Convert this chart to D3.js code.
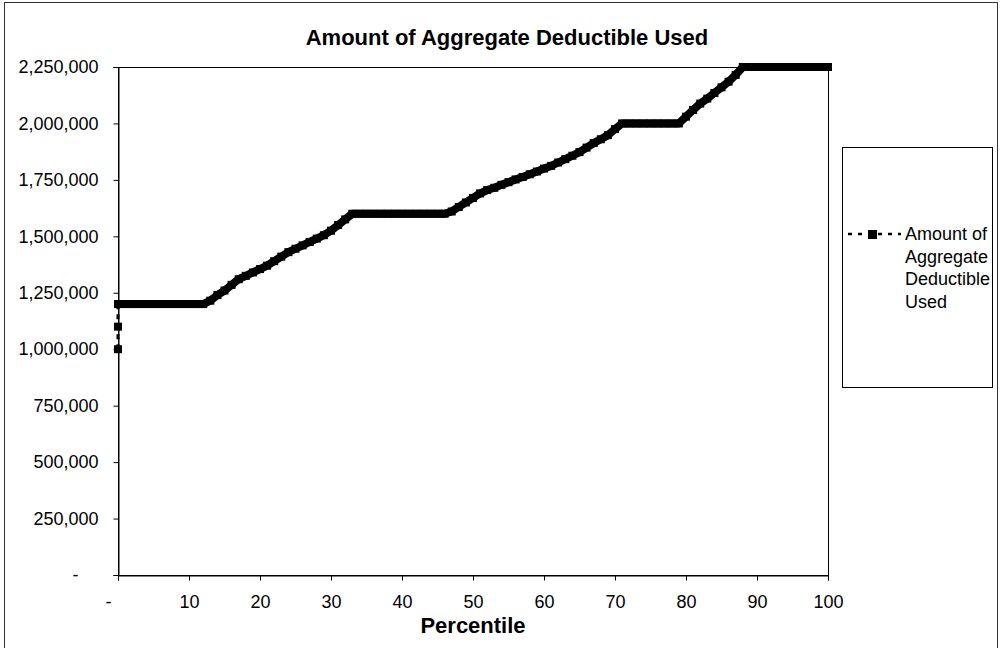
<!DOCTYPE html>
<html>
<head>
<meta charset="utf-8">
<script src="https://cdn.jsdelivr.net/npm/d3@7/dist/d3.min.js"></script>
<style>
  html, body { margin: 0; padding: 0; background: #fff; }
  svg { display: block; font-family: "Liberation Sans", Arial, sans-serif; }
</style>
</head>
<body>
<svg id="chart" width="1002" height="648"></svg>
<script>
// ---- Data ----
const chartTitle = "Amount of Aggregate Deductible Used";
const xAxisTitle = "Percentile";
const seriesName = ["Amount of", "Aggregate", "Deductible", "Used"];

const percentiles = [
  0, 0, 0,
  1, 2, 3, 4, 5, 6, 7, 8, 9, 10,
  11, 12, 13, 14, 15, 16, 17, 18, 19, 20,
  21, 22, 23, 24, 25, 26, 27, 28, 29, 30,
  31, 32, 33, 34, 35, 36, 37, 38, 39, 40,
  41, 42, 43, 44, 45, 46, 47, 48, 49, 50,
  51, 52, 53, 54, 55, 56, 57, 58, 59, 60,
  61, 62, 63, 64, 65, 66, 67, 68, 69, 70,
  71, 72, 73, 74, 75, 76, 77, 78, 79, 80,
  81, 82, 83, 84, 85, 86, 87, 88, 89, 90,
  91, 92, 93, 94, 95, 96, 97, 98, 99, 100
];

const amounts = [
  1000000, 1100000, 1200000,
  1200000, 1200000, 1200000, 1200000, 1200000, 1200000, 1200000, 1200000, 1200000, 1200000,
  1200000, 1200000, 1215000, 1240000, 1260000, 1285000, 1310000, 1325000, 1340000, 1355000,
  1370000, 1390000, 1410000, 1430000, 1445000, 1460000, 1475000, 1490000, 1505000, 1525000,
  1550000, 1575000, 1600000, 1600000, 1600000, 1600000, 1600000, 1600000, 1600000, 1600000,
  1600000, 1600000, 1600000, 1600000, 1600000, 1600000, 1610000, 1630000, 1650000, 1670000,
  1690000, 1705000, 1715000, 1728000, 1740000, 1752000, 1763000, 1775000, 1787000, 1800000,
  1812000, 1827000, 1842000, 1857000, 1873000, 1893000, 1913000, 1930000, 1948000, 1975000,
  2000000, 2000000, 2000000, 2000000, 2000000, 2000000, 2000000, 2000000, 2000000, 2030000,
  2060000, 2088000, 2110000, 2135000, 2160000, 2185000, 2215000, 2250000, 2250000, 2250000,
  2250000, 2250000, 2250000, 2250000, 2250000, 2250000, 2250000, 2250000, 2250000, 2250000
];

const yTickValues = [0, 250000, 500000, 750000, 1000000, 1250000, 1500000, 1750000, 2000000, 2250000];
const xTickValues = [0, 10, 20, 30, 40, 50, 60, 70, 80, 90, 100];

// ---- Layout ----
const plot = { left: 118, top: 67, right: 828, bottom: 575 };
const svg = d3.select("#chart");

const x = d3.scaleLinear().domain([0, 100]).range([plot.left, plot.right]);
const y = d3.scaleLinear().domain([0, 2250000]).range([plot.bottom, plot.top]);

// outer chart border
svg.append("rect")
  .attr("x", 4.5).attr("y", 2.5)
  .attr("width", 993).attr("height", 700)
  .attr("fill", "#fff").attr("stroke", "#333").attr("stroke-width", 1);

// title
svg.append("text")
  .attr("x", 507).attr("y", 45)
  .attr("text-anchor", "middle")
  .attr("font-size", 22).attr("font-weight", "bold")
  .text(chartTitle);

// plot area frame
svg.append("rect")
  .attr("x", plot.left + 0.5).attr("y", plot.top + 0.5)
  .attr("width", plot.right - plot.left).attr("height", plot.bottom - plot.top)
  .attr("fill", "#fff").attr("stroke", "#000").attr("stroke-width", 1);

const numFmt = d3.format(",");

// y axis
const yAxis = svg.append("g")
  .attr("transform", `translate(${plot.left + 0.5},0)`)
  .call(d3.axisLeft(y).tickValues(yTickValues).tickSize(5).tickPadding(15)
    .tickFormat(d => d === 0 ? "-" : numFmt(d)));
yAxis.select(".domain").attr("stroke", "#000");
yAxis.selectAll(".tick line").attr("stroke", "#000");
yAxis.selectAll(".tick text")
  .attr("font-size", 18).attr("font-family", "Liberation Sans, Arial, sans-serif").attr("fill", "#000")
  .filter(d => d === 0).attr("x", -40);

// x axis
const xAxis = svg.append("g")
  .attr("transform", `translate(0,${plot.bottom + 0.5})`)
  .call(d3.axisBottom(x).tickValues(xTickValues).tickSize(5).tickPadding(15)
    .tickFormat(d => d === 0 ? "-" : String(d)));
xAxis.select(".domain").attr("stroke", "#000");
xAxis.selectAll(".tick line").attr("stroke", "#000");
xAxis.selectAll(".tick text")
  .attr("font-size", 18).attr("font-family", "Liberation Sans, Arial, sans-serif").attr("fill", "#000")
  .filter(d => d === 0).attr("x", -10);

// x axis title
svg.append("text")
  .attr("x", (plot.left + plot.right) / 2).attr("y", 633)
  .attr("text-anchor", "middle")
  .attr("font-size", 22).attr("font-weight", "bold")
  .text(xAxisTitle);

// series
const points = percentiles.map((p, i) => ({ p, v: amounts[i] }));
const line = d3.line().x(d => x(d.p)).y(d => y(d.v));

// thin dashed series line
svg.append("path")
  .datum(points)
  .attr("d", line)
  .attr("fill", "none")
  .attr("stroke", "#000")
  .attr("stroke-width", 3)
  .attr("stroke-dasharray", "5,5");

// densely packed square markers merge into a solid band where points are close
const firstDense = percentiles.lastIndexOf(0);
svg.append("path")
  .datum(points.slice(firstDense))
  .attr("d", line)
  .attr("fill", "none")
  .attr("stroke", "#000")
  .attr("stroke-width", 8)
  .attr("stroke-linejoin", "round")
  .attr("stroke-linecap", "square");

const ms = 8;
svg.append("g").selectAll("rect")
  .data(points)
  .join("rect")
  .attr("x", d => x(d.p) - ms / 2)
  .attr("y", d => y(d.v) - ms / 2)
  .attr("width", ms).attr("height", ms)
  .attr("fill", "#000");

// legend
const legend = svg.append("g");
legend.append("rect")
  .attr("x", 842.5).attr("y", 147.5)
  .attr("width", 150).attr("height", 240)
  .attr("fill", "#fff").attr("stroke", "#000").attr("stroke-width", 1);
legend.append("line")
  .attr("x1", 848).attr("x2", 901)
  .attr("y1", 234).attr("y2", 234)
  .attr("stroke", "#000").attr("stroke-width", 2.5)
  .attr("stroke-dasharray", "4,6");
legend.append("rect")
  .attr("x", 868).attr("y", 230).attr("width", 9).attr("height", 9)
  .attr("fill", "#000");
legend.selectAll("text.lg")
  .data(seriesName)
  .join("text")
  .attr("class", "lg")
  .attr("x", 905)
  .attr("y", (d, i) => 240 + i * 22.5)
  .attr("font-size", 18)
  .text(d => d);
</script>
</body>
</html>
